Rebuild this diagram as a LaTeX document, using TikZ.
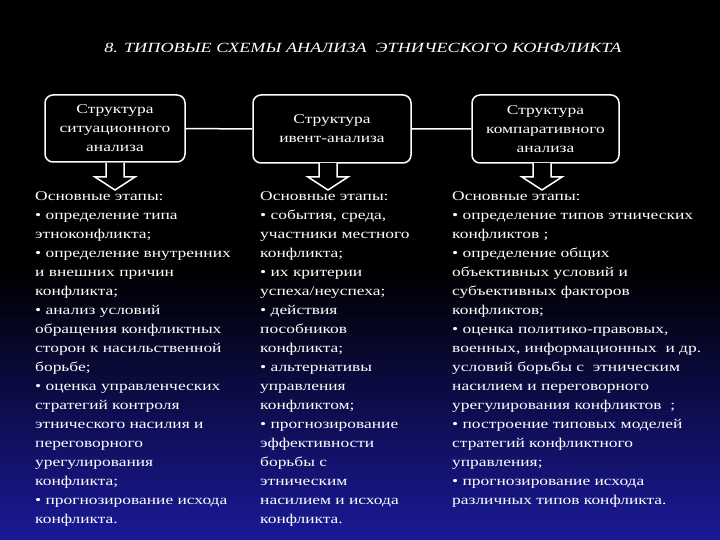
\documentclass[tikz,border=0pt]{standalone}
\usepackage{fontspec}
\setmainfont{Liberation Serif}[FakeStretch=1.3]
\begin{document}
\begin{tikzpicture}[x=1pt,y=-1pt,
 hbox/.style={draw=white,line width=1.5pt,rounded corners=8pt,fill=black,text=white,align=center,font=\fontsize{13.4}{19}\selectfont,inner sep=0pt},
 body/.style={anchor=north west,text=white,align=left,font=\fontsize{13.4}{19}\selectfont,inner sep=0pt},
 barrow/.style={draw=white,line width=1.5pt,fill=black}]
\fill[black] (0,0) rectangle (720,270);
\shade[top color=black,bottom color=blue!55!black!90] (0,270) rectangle (720,540);
\useasboundingbox (0,0) rectangle (720,540);
\node[text=white,font=\itshape\fontsize{14}{16}\selectfont] (title) at (363,48) {8. ТИПОВЫЕ СХЕМЫ АНАЛИЗА \ ЭТНИЧЕСКОГО КОНФЛИКТА};
\node[hbox,minimum width=140,minimum height=67] (b1) at (115,128.5) {Структура\\ситуационного\\анализа};
\node[hbox,minimum width=158,minimum height=68] (b2) at (332,129) {Структура\\ивент-анализа};
\node[hbox,minimum width=147,minimum height=68] (b3) at (545.5,129) {Структура\\компаративного\\анализа};
\draw[white,line width=1.5pt] (b1.east) -- (b2.west) (b2.east) -- (b3.west);
\foreach \c/\n in {115/b1,328/b2,542/b3}{
 \draw[barrow] (\c-9,163) -- (\c-9,177) -- (\c-20,177) -- (\c,190) -- (\c+20,177) -- (\c+9,177) -- (\c+9,163);
}
\node[body] (t1) at (35,191) {Основные этапы:\\• определение типа\\этноконфликта;\\• определение внутренних\\и внешних причин\\конфликта;\\• анализ условий\\обращения конфликтных\\сторон к насильственной\\борьбе;\\• оценка управленческих\\стратегий контроля\\этнического насилия и\\переговорного\\урегулирования\\конфликта;\\• прогнозирование исхода\\конфликта.};
\node[body] (t2) at (260,191) {Основные этапы:\\• события, среда,\\участники местного\\конфликта;\\• их критерии\\успеха/неуспеха;\\• действия\\пособников\\конфликта;\\• альтернативы\\управления\\конфликтом;\\• прогнозирование\\эффективности\\борьбы с\\этническим\\насилием и исхода\\конфликта.};
\node[body] (t3) at (452,191) {Основные этапы:\\• определение типов этнических\\конфликтов ;\\• определение общих\\объективных условий и\\субъективных факторов\\конфликтов;\\• оценка политико-правовых,\\военных, информационных \ и др.\\условий борьбы с \ этническим\\насилием и переговорного\\урегулирования конфликтов \ ;\\• построение типовых моделей\\стратегий конфликтного\\управления;\\• прогнозирование исхода\\различных типов конфликта.};
\end{tikzpicture}
\end{document}
